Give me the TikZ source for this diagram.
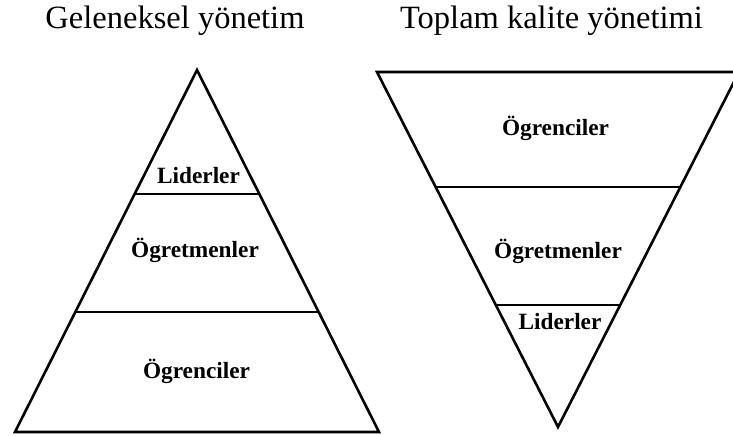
\documentclass[tikz,border=0pt]{standalone}
\usepackage{fontspec}
\setmainfont{Liberation Serif}
\usetikzlibrary{calc}
\begin{document}
\begin{tikzpicture}[x=1pt,y=-1pt,
  tri/.style={line width=2.6pt,line join=miter,line cap=butt},
  lbl/.style={font=\fontsize{23.3}{25}\selectfont\bfseries, anchor=base, inner sep=0pt},
  ttl/.style={font=\fontsize{32.5}{35}\selectfont, anchor=base, inner sep=0pt}]
\useasboundingbox (0,0) rectangle (733,436);
% titles
\node[ttl] (t1) at (175,29) {Geleneksel yönetim};
\node[ttl] (t2) at (551.5,29) {Toplam kalite yönetimi};
\begin{scope}
\clip (0,0) rectangle (733,436);
% left pyramid
\coordinate (A) at (197,70);
\coordinate (BL) at (15,432);
\coordinate (BR) at (379,432);
\draw[tri] (A) -- (BR) -- (BL) -- cycle;
\coordinate (l1a) at ($(A)!0.3425!(BL)$);
\coordinate (l1b) at ($(A)!0.3425!(BR)$);
\coordinate (l2a) at ($(A)!0.6685!(BL)$);
\coordinate (l2b) at ($(A)!0.6685!(BR)$);
\draw[tri] (l1a) -- (l1b);
\draw[tri] (l2a) -- (l2b);
% right inverted pyramid
\coordinate (TL) at (377,72);
\coordinate (TR) at (739,72);
\coordinate (V) at (558,427);
\draw[tri] (TL) -- (TR) -- (V) -- cycle;
\coordinate (r1a) at ($(V)!0.676!(TL)$);
\coordinate (r1b) at ($(V)!0.676!(TR)$);
\coordinate (r2a) at ($(V)!0.3437!(TL)$);
\coordinate (r2b) at ($(V)!0.3437!(TR)$);
\draw[tri] (r1a) -- (r1b);
\draw[tri] (r2a) -- (r2b);
\end{scope}
% labels
\node[lbl] (lL) at (198.5,183) {Liderler};
\node[lbl] (lO) at (195,257) {Ögretmenler};
\node[lbl] (lS) at (196.5,378) {Ögrenciler};
\node[lbl] (rS) at (555.5,135) {Ögrenciler};
\node[lbl] (rO) at (558,258) {Ögretmenler};
\node[lbl] (rL) at (560,329) {Liderler};
\end{tikzpicture}
\end{document}
